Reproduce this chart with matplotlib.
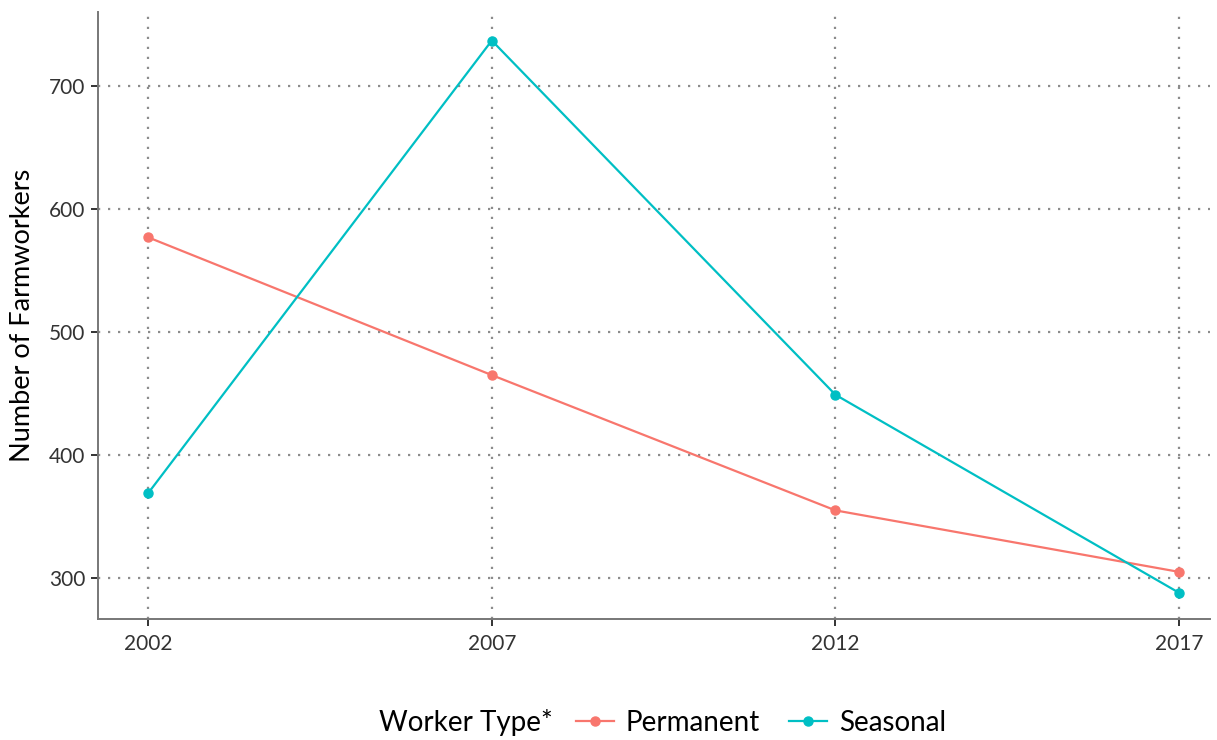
import matplotlib
matplotlib.use('Agg')
import matplotlib.pyplot as plt

plt.rcParams['font.family'] = ['Lato', 'DejaVu Sans']

years = [2002, 2007, 2012, 2017]
permanent = [577, 465, 355, 305]
seasonal = [369, 737, 449, 288]
series_names = ['Permanent', 'Seasonal']
series_colors = ['#F8766D', '#00BFC4']

fig = plt.figure(figsize=(12.17, 7.40), dpi=100)
ax = fig.add_axes([98 / 1217, 1 - 619 / 740, (1210 - 98) / 1217, (619 - 12) / 740])

for vals, name, col in zip([permanent, seasonal], series_names, series_colors):
    ax.plot(years, vals, color=col, lw=1.6, marker='o', ms=6.5, label=name)

ax.set_xlim(2001.27, 2017.45)
ax.set_ylim(266.7, 760.2)
ax.set_xticks(years)
ax.set_yticks([300, 400, 500, 600, 700])
ax.grid(True, linestyle=(0, (1, 3.5)), color='#8c8c8c', lw=1.6)
ax.set_axisbelow(True)
for s in ['top', 'right']:
    ax.spines[s].set_visible(False)
for s in ['left', 'bottom']:
    ax.spines[s].set_color('#777777')
    ax.spines[s].set_linewidth(1.4)
ax.tick_params(labelsize=15, colors='#333333', length=5, width=1.4, pad=4)
ax.tick_params(axis='x', pad=6)
ax.set_ylabel('Number of Farmworkers', fontsize=19.5, labelpad=10)

fig.text(553 / 1217, 1 - 723 / 740, 'Worker Type*', ha='right', va='center', fontsize=20)
fig.legend(loc='center left', bbox_to_anchor=(576 / 1217, 1 - 723 / 740), ncol=2,
           frameon=False, fontsize=20, handlelength=1.35, columnspacing=1.05,
           handletextpad=0.45, borderaxespad=0, borderpad=0)

fig.savefig('out.png', dpi=100)
